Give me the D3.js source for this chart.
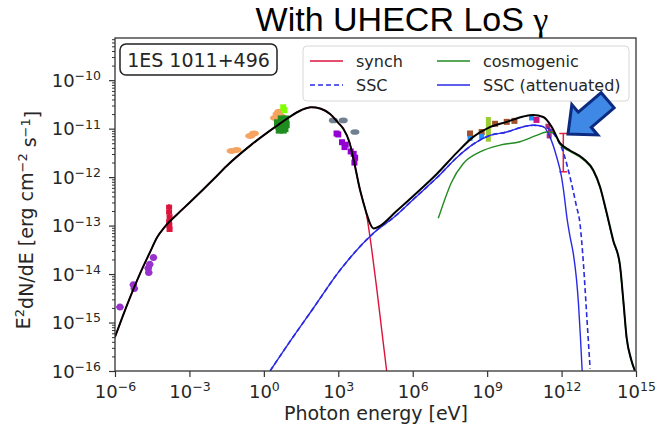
<!DOCTYPE html>
<html>
<head>
<meta charset="utf-8">
<script src="https://cdn.jsdelivr.net/npm/d3@7"></script>
<style>
  body { margin: 0; background: #fff; }
  text { font-family: "DejaVu Sans", sans-serif; fill: #262626; }
</style>
</head>
<body>
<div id="chart"></div>
<script>
// all values as log10(E / eV), log10(flux / erg cm^-2 s^-1)
const xTicks = [-6, -3, 0, 3, 6, 9, 12, 15];
const yTicks = [-16, -15, -14, -13, -12, -11, -10];

const total = [
  [-6.0, -15.30], [-5.5, -14.62], [-5.0, -14.0], [-4.6, -13.56], [-4.3, -13.24], [-4.0, -13.03],
  [-3.5, -12.77], [-3.0, -12.53], [-2.0, -12.03], [-1.5, -11.77], [-0.5, -11.33], [0.5, -10.95],
  [1.0, -10.77], [1.5, -10.62], [1.9, -10.56], [2.3, -10.59], [2.67, -10.70], [3.0, -10.88],
  [3.2, -11.0], [3.45, -11.28], [3.61, -11.62], [3.87, -12.25], [4.14, -12.75], [4.3, -12.98],
  [4.42, -13.06], [4.6, -13.03], [5.35, -12.70], [6.0, -12.40], [7.0, -11.92], [7.77, -11.50],
  [8.44, -11.17], [9.11, -10.97], [9.79, -10.86], [10.46, -10.75], [10.86, -10.72], [11.26, -10.76],
  [11.6, -10.96], [11.94, -11.30], [12.34, -11.45], [12.88, -11.62], [13.28, -11.86], [13.55, -12.20],
  [13.8, -12.7], [14.08, -13.30], [14.35, -13.80], [14.49, -14.55], [14.62, -15.30], [14.8, -15.75],
  [14.96, -16.0]
];

const synchTail = [[4.14, -12.78], [4.35, -13.5], [4.55, -14.3], [4.75, -15.15], [4.95, -16.0]];

const sscRise = [
  [0.25, -16.0], [1.0, -15.43], [2.0, -14.70], [3.07, -13.92], [4.41, -13.16], [5.35, -12.78],
  [6.0, -12.47], [7.0, -12.0], [7.77, -11.60], [8.44, -11.32], [9.11, -11.14], [9.79, -11.07],
  [10.46, -10.96], [10.86, -10.93], [11.26, -10.96]
];
const sscTail = [
  [11.4, -10.98], [11.67, -11.10], [12.07, -11.49], [12.40, -12.13], [12.6, -12.6], [12.74, -12.95],
  [12.88, -13.78], [13.01, -14.82], [13.15, -15.95]
];
const sscAttTail = [
  [11.53, -11.17], [11.80, -11.58], [12.0, -12.0], [12.1, -12.35], [12.22, -12.85], [12.35, -13.25],
  [12.48, -13.6], [12.6, -14.1], [12.68, -14.6], [12.76, -15.3], [12.83, -16.0]
];

const cosmogenic = [
  [7.03, -12.85], [7.30, -12.45], [7.55, -12.12], [8.04, -11.72], [8.71, -11.48], [9.52, -11.34],
  [10.32, -11.27], [10.99, -11.14], [11.40, -11.07], [11.67, -11.08], [11.94, -11.33], [12.34, -11.47],
  [12.88, -11.64], [13.28, -11.88], [13.55, -12.22], [13.8, -12.72], [14.08, -13.32], [14.35, -13.82],
  [14.49, -14.57], [14.62, -15.32], [14.8, -15.77], [14.96, -16.0]
];

// observations
const radioPts = [[-5.8, -14.68], [-5.26, -14.22], [-5.22, -14.30], [-4.66, -13.88], [-4.64, -13.97], [-4.6, -13.80], [-4.45, -13.66]];
const mmPts = [[-3.82, -12.62], [-3.82, -12.72], [-3.80, -12.82], [-3.82, -12.92], [-3.81, -13.0], [-3.80, -13.08]];
const optPts = [[-1.3, -11.46], [-1.1, -11.44], [-0.55, -11.15], [-0.4, -11.10], [0.45, -10.78], [0.55, -10.70], [0.62, -10.65], [0.7, -10.75], [0.6, -10.85]];
const uvPts = [[0.55, -10.88], [0.6, -10.95], [0.65, -11.0], [0.7, -10.9], [0.75, -10.95], [0.8, -10.85], [0.85, -11.0], [0.9, -10.92], [0.62, -11.03], [0.78, -11.03], [0.88, -10.8], [0.7, -10.8]];
const limePts = [[0.78, -10.56], [0.83, -10.62]];
const grayPts = [[2.80, -10.83], [3.20, -10.83], [3.67, -11.07]];
const xrayPts = [[2.93, -11.10], [3.0, -11.12], [3.15, -11.28], [3.25, -11.38], [3.3, -11.33], [3.5, -11.47], [3.62, -11.52], [3.68, -11.6], [3.65, -11.7]];
const fermiPts = [[8.31, -11.10], [8.78, -11.07], [9.32, -10.90], [9.79, -10.86], [10.1, -10.84]];
const fermiBluePts = [[8.31, -11.20], [8.78, -11.16], [10.79, -10.78]];
const limeBar = [9.05, -10.76, -11.27];
const vheMagenta = [[10.99, -10.82]];
const vhePts = [[11.45, -10.95], [11.55, -11.05], [11.5, -11.15]];
const vheBar = [11.5, -10.9, -11.2];
const redBar = [12.07, -11.10, -11.89];

const legendLabels = ["synch", "SSC", "cosmogenic", "SSC (attenuated)"];
const sourceName = "1ES 1011+496";

const width = 658, height = 436;
const margin = {top: 38, right: 22, bottom: 65, left: 115};

const x = d3.scaleLog()
    .domain([1e-6, 1e15])
    .range([margin.left, width - margin.right]);
const y = d3.scaleLog()
    .domain([1e-16, Math.pow(10, -9.13)])
    .range([height - margin.bottom, margin.top]);

const px = d => x(Math.pow(10, d[0]));
const py = d => y(Math.pow(10, d[1]));

const line = d3.line().x(px).y(py).curve(d3.curveMonotoneX);

const svg = d3.select("#chart").append("svg")
    .attr("width", width)
    .attr("height", height)
    .attr("viewBox", [0, 0, width, height]);

svg.append("clipPath").attr("id", "clip")
  .append("rect")
    .attr("x", margin.left).attr("y", margin.top)
    .attr("width", width - margin.left - margin.right)
    .attr("height", height - margin.top - margin.bottom);

// title
svg.append("text")
    .attr("x", 402).attr("y", 31)
    .attr("text-anchor", "middle")
    .style("font-family", "'Liberation Sans', Arial, sans-serif")
    .style("font-size", "34px")
    .style("fill", "#000")
    .text("With UHECR LoS ")
  .append("tspan")
    .style("font-family", "'Liberation Serif', serif")
    .text("γ");

// axes
const yMinor = [];
yTicks.slice(0, -1).forEach(e => d3.range(2, 10).forEach(m => yMinor.push(m * Math.pow(10, e))));
yMinor.push(2e-10, 3e-10, 4e-10, 5e-10, 6e-10, 7e-10);

svg.append("g")
    .attr("transform", `translate(${margin.left},0)`)
    .call(d3.axisLeft(y).tickValues(yMinor).tickFormat("").tickSizeInner(3).tickSizeOuter(0))
    .call(g => g.select(".domain").remove())
    .call(g => g.selectAll("line").attr("stroke", "#333"));

const yAxis = svg.append("g")
    .attr("transform", `translate(${margin.left},0)`)
    .call(d3.axisLeft(y).tickValues(yTicks.map(e => Math.pow(10, e))).tickFormat("").tickSizeInner(6).tickSizeOuter(0))
    .call(g => g.select(".domain").remove())
    .call(g => g.selectAll("line").attr("stroke", "#333").attr("stroke-width", 1.2));

yAxis.selectAll(".tick").data(yTicks).append("text")
    .attr("x", -14).attr("dy", "0.35em")
    .attr("text-anchor", "end")
    .style("font-size", "18px")
    .text("10")
  .append("tspan")
    .attr("dy", "-0.55em")
    .style("font-size", "12.5px")
    .text(d => "−" + Math.abs(d));

const xAxis = svg.append("g")
    .attr("transform", `translate(0,${height - margin.bottom})`)
    .call(d3.axisBottom(x).tickValues(xTicks.map(e => Math.pow(10, e))).tickFormat("").tickSizeInner(6).tickSizeOuter(0))
    .call(g => g.select(".domain").remove())
    .call(g => g.selectAll("line").attr("stroke", "#333").attr("stroke-width", 1.2));

xAxis.selectAll(".tick").data(xTicks).append("text")
    .attr("y", 27)
    .attr("text-anchor", "middle")
    .style("font-size", "18px")
    .text("10")
  .append("tspan")
    .attr("dy", "-0.55em")
    .style("font-size", "12.5px")
    .text(d => d < 0 ? "−" + Math.abs(d) : d);

svg.append("text")
    .attr("x", 376)
    .attr("y", 420)
    .attr("text-anchor", "middle")
    .style("font-size", "19px")
    .text("Photon energy [eV]");

const yl = svg.append("text")
    .attr("transform", `translate(30,220) rotate(-90)`)
    .attr("text-anchor", "middle")
    .style("font-size", "19px");
yl.append("tspan").text("E");
yl.append("tspan").attr("dy", "-0.5em").style("font-size", "13px").text("2");
yl.append("tspan").attr("dy", "0.5em").text("dN/dE [erg cm");
yl.append("tspan").attr("dy", "-0.5em").style("font-size", "13px").text("−2");
yl.append("tspan").attr("dy", "0.5em").text(" s");
yl.append("tspan").attr("dy", "-0.5em").style("font-size", "13px").text("−1");
yl.append("tspan").attr("dy", "0.5em").text("]");

// data points
const pts = svg.append("g").attr("clip-path", "url(#clip)");

pts.selectAll(".radio-bar").data(radioPts).join("line")
    .attr("x1", d => x(Math.pow(10, d[0] - 0.15))).attr("x2", d => x(Math.pow(10, d[0] + 0.15)))
    .attr("y1", py).attr("y2", py)
    .attr("stroke", "#9932cc").attr("stroke-width", 2);
pts.selectAll(".radio").data(radioPts).join("circle")
    .attr("cx", px).attr("cy", py).attr("r", 3.5).attr("fill", "#9932cc");

pts.append("line")
    .attr("x1", px(mmPts[0])).attr("x2", px(mmPts[0]))
    .attr("y1", py([0, -12.56])).attr("y2", py([0, -13.12]))
    .attr("stroke", "#dc143c").attr("stroke-width", 2);
pts.selectAll(".mm").data(mmPts).join("rect")
    .attr("x", d => px(d) - 3).attr("y", d => py(d) - 2.5)
    .attr("width", 6).attr("height", 5).attr("fill", "#dc143c");

pts.selectAll(".opt").data(optPts).join("ellipse")
    .attr("cx", px).attr("cy", py).attr("rx", 5).attr("ry", 3).attr("fill", "#f4a460");
pts.selectAll(".lime").data(limePts).join("rect")
    .attr("x", d => px(d) - 3).attr("y", d => py(d) - 3)
    .attr("width", 6).attr("height", 6).attr("fill", "#7fff00");
pts.selectAll(".uv").data(uvPts).join("rect")
    .attr("x", d => px(d) - 3.5).attr("y", d => py(d) - 3.5)
    .attr("width", 7).attr("height", 7).attr("fill", "#1e8c1e");
pts.selectAll(".gray").data(grayPts).join("ellipse")
    .attr("cx", px).attr("cy", py).attr("rx", 4.5).attr("ry", 2.8).attr("fill", "#708090");
pts.selectAll(".xray").data(xrayPts).join("rect")
    .attr("x", d => px(d) - 3).attr("y", d => py(d) - 3)
    .attr("width", 6).attr("height", 6).attr("fill", "#9400d3");

pts.selectAll(".fermi").data(fermiPts).join("rect")
    .attr("x", d => px(d) - 3).attr("y", d => py(d) - 3)
    .attr("width", 6).attr("height", 6).attr("fill", "#a0522d");
pts.selectAll(".fermib").data(fermiBluePts).join("rect")
    .attr("x", d => px(d) - 2.5).attr("y", d => py(d) - 2.5)
    .attr("width", 5).attr("height", 5).attr("fill", "#1e90ff");
pts.append("line")
    .attr("x1", px(limeBar)).attr("x2", px(limeBar))
    .attr("y1", py([0, limeBar[1]])).attr("y2", py([0, limeBar[2]]))
    .attr("stroke", "#9acd32").attr("stroke-width", 5);

pts.selectAll(".vhem").data(vheMagenta).join("rect")
    .attr("x", d => px(d) - 3).attr("y", d => py(d) - 3)
    .attr("width", 6).attr("height", 6).attr("fill", "#c71585");
pts.append("line")
    .attr("x1", px(vheBar)).attr("x2", px(vheBar))
    .attr("y1", py([0, vheBar[1]])).attr("y2", py([0, vheBar[2]]))
    .attr("stroke", "#b03070").attr("stroke-width", 1.5);
pts.selectAll(".vhe").data(vhePts).join("rect")
    .attr("x", d => px(d) - 2.5).attr("y", d => py(d) - 2.5)
    .attr("width", 5).attr("height", 5).attr("fill", "#b03070");

const rb = pts.append("g").attr("stroke", "#e0203c").attr("stroke-width", 1.5);
rb.append("line")
    .attr("x1", px(redBar)).attr("x2", px(redBar))
    .attr("y1", py([0, redBar[1]])).attr("y2", py([0, redBar[2]]));
[redBar[1], redBar[2]].forEach(v => rb.append("line")
    .attr("x1", px(redBar) - 4).attr("x2", px(redBar) + 4)
    .attr("y1", py([0, v])).attr("y2", py([0, v])));

// model curves
const curves = svg.append("g").attr("clip-path", "url(#clip)").attr("fill", "none");

curves.append("path")
    .attr("d", line(total.filter(d => d[0] < 4.1).concat(synchTail)))
    .attr("stroke", "#dc143c").attr("stroke-width", 1.4);
curves.append("path")
    .attr("d", line(cosmogenic))
    .attr("stroke", "#228b22").attr("stroke-width", 1.4);
curves.append("path")
    .attr("d", line(sscRise.concat(sscTail)))
    .attr("stroke", "#2a2ae6").attr("stroke-width", 1.6).attr("stroke-dasharray", "5,3");
curves.append("path")
    .attr("d", line(sscRise.concat(sscAttTail)))
    .attr("stroke", "#2a2ae6").attr("stroke-width", 1.4);
curves.append("path")
    .attr("d", line(total))
    .attr("stroke", "#000").attr("stroke-width", 2);

// frame
svg.append("rect")
    .attr("x", margin.left).attr("y", margin.top)
    .attr("width", width - margin.left - margin.right)
    .attr("height", height - margin.top - margin.bottom)
    .attr("fill", "none").attr("stroke", "#333").attr("stroke-width", 1.3);

// source label
svg.append("rect")
    .attr("x", 120).attr("y", 44).attr("width", 157).attr("height", 31).attr("rx", 6)
    .attr("fill", "#fff").attr("stroke", "#222").attr("stroke-width", 1.5);
svg.append("text")
    .attr("x", 198.5).attr("y", 66.5)
    .attr("text-anchor", "middle")
    .style("font-size", "19px")
    .text(sourceName);

// legend
const legend = svg.append("g");
legend.append("rect")
    .attr("x", 303).attr("y", 46).attr("width", 326).attr("height", 55).attr("rx", 4)
    .attr("fill", "#fff").attr("fill-opacity", 0.85).attr("stroke", "#d8d8d8");
const legendStyle = [
  {col: 0, row: 0, color: "#dc143c", dash: null},
  {col: 0, row: 1, color: "#2a2ae6", dash: "5,3"},
  {col: 1, row: 0, color: "#228b22", dash: null},
  {col: 1, row: 1, color: "#2a2ae6", dash: null}
];
legendLabels.forEach((label, i) => {
  const s = legendStyle[i];
  const lx = s.col ? 437 : 310, ly = s.row ? 85 : 61;
  legend.append("line")
      .attr("x1", lx).attr("x2", lx + 33).attr("y1", ly).attr("y2", ly)
      .attr("stroke", s.color).attr("stroke-width", 1.6)
      .attr("stroke-dasharray", s.dash);
  legend.append("text")
      .attr("x", lx + 46).attr("y", ly + 6)
      .style("font-size", "16px")
      .text(label);
});

// arrow pointing at the VHE excess
const tip = [px([12.26, 0]), py([0, -11.11])];
const u = [0.762, -0.648], n = [0.648, 0.762];
const at = (a, b) => [tip[0] + u[0] * a + n[0] * b, tip[1] + u[1] * a + n[1] * b];
svg.append("polygon")
    .attr("points", [at(0, 0), at(22, -20), at(22, -10), at(52, -10), at(52, 10), at(22, 10), at(22, 20)].join(" "))
    .attr("fill", "#3f88e6").attr("stroke", "#0b2a80").attr("stroke-width", 3)
    .attr("stroke-linejoin", "miter");
</script>
</body>
</html>
